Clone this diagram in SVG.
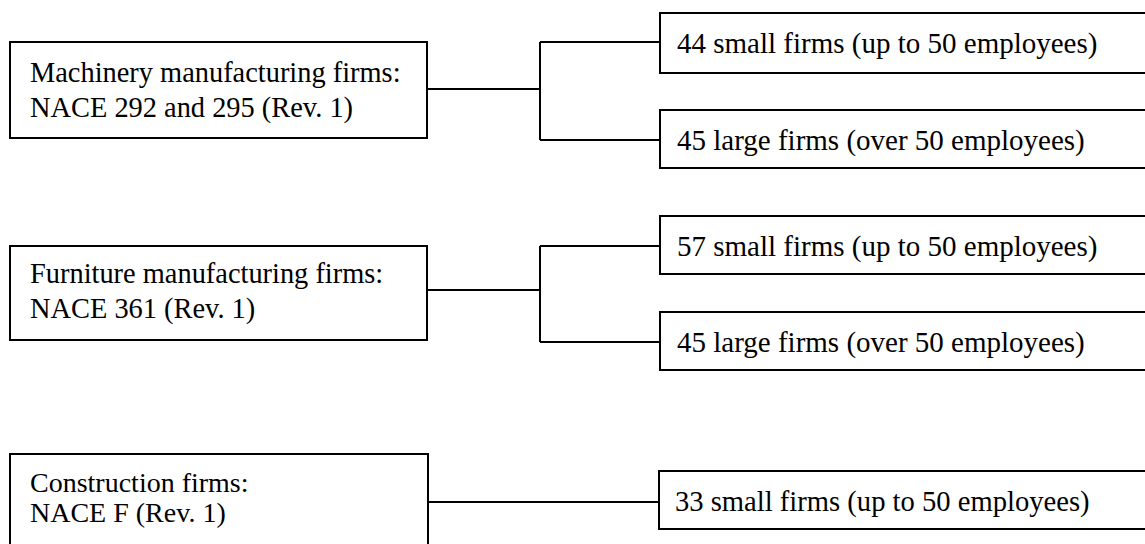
<svg xmlns="http://www.w3.org/2000/svg" width="1145" height="544" viewBox="0 0 1145 544">
<style>
.box{fill:#fff;stroke:#000;stroke-width:2}
.ln{fill:none;stroke:#000;stroke-width:2}
.t{font-family:'Liberation Serif','Times New Roman',Times,'DejaVu Serif',serif;font-size:28.4px;fill:#000}
.r{font-size:29px}
.c{font-size:28px}
</style>
<rect x="0" y="0" width="1145" height="544" fill="#fff"/>
<g id="connectors">
<path class="ln" d="M427 89 H540 M540 42 V140 M540 42 H660 M540 140 H660"/>
<path class="ln" d="M427 290 H540 M540 246 V342 M540 246 H660 M540 342 H660"/>
<path class="ln" d="M428 502 H659"/>
</g>
<g id="machinery">
<rect class="box" x="10" y="42" width="417" height="96"/>
<text class="t" x="30" y="82">Machinery manufacturing firms:</text>
<text class="t" x="30" y="117">NACE 292 and 295 (Rev. 1)</text>
</g>
<g id="furniture">
<rect class="box" x="10" y="246" width="417" height="94"/>
<text class="t" x="30" y="283">Furniture manufacturing firms:</text>
<text class="t" x="30" y="318">NACE 361 (Rev. 1)</text>
</g>
<g id="construction">
<rect class="box" x="10" y="454" width="418" height="110"/>
<text class="t c" x="30" y="492">Construction firms:</text>
<text class="t c" x="30" y="522">NACE F (Rev. 1)</text>
</g>
<g id="mach-small">
<rect class="box" x="660" y="13" width="500" height="60"/>
<text class="t r" x="677" y="53">44 small firms (up to 50 employees)</text>
</g>
<g id="mach-large">
<rect class="box" x="660" y="110" width="500" height="58"/>
<text class="t r" x="677" y="150">45 large firms (over 50 employees)</text>
</g>
<g id="furn-small">
<rect class="box" x="660" y="216" width="500" height="58"/>
<text class="t r" x="677" y="256">57 small firms (up to 50 employees)</text>
</g>
<g id="furn-large">
<rect class="box" x="660" y="312" width="500" height="58"/>
<text class="t r" x="677" y="352">45 large firms (over 50 employees)</text>
</g>
<g id="cons-small">
<rect class="box" x="659" y="471" width="500" height="58"/>
<text class="t" x="675" y="511" style="font-size:28.6px">33 small firms (up to 50 employees)</text>
</g>
</svg>
